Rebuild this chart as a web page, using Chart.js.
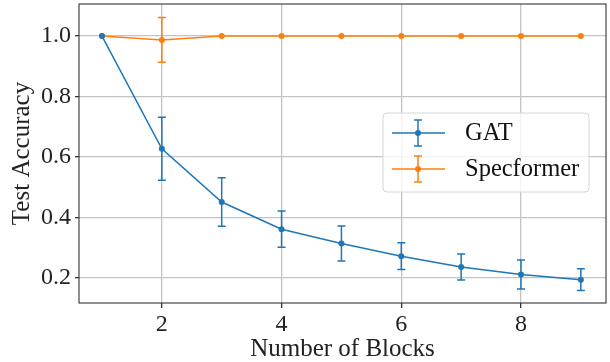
<!DOCTYPE html>
<html><head><meta charset="utf-8">
<script src="https://cdn.jsdelivr.net/npm/chart.js@4"></script>
<style>html,body{margin:0;padding:0;background:#fff}#wrap{width:610px;height:362px}</style>
</head><body><div id="wrap"><canvas id="c" width="610" height="362"></canvas></div>
<script>
const blocks = [1, 2, 3, 4, 5, 6, 7, 8, 9];
const gatMean = [1.0, 0.627, 0.451, 0.361, 0.314, 0.272, 0.236, 0.211, 0.194];
const gatErr  = [0.0, 0.104, 0.080, 0.060, 0.058, 0.044, 0.043, 0.048, 0.036];
const specMean = [1.0, 0.987, 1.0, 1.0, 1.0, 1.0, 1.0, 1.0, 1.0];
const specErr  = [0.0, 0.074, 0.0, 0.0, 0.0, 0.0, 0.0, 0.0, 0.0];
const xTicks = [2, 4, 6, 8];
const yTicks = [0.2, 0.4, 0.6, 0.8, 1.0];
const seriesNames = ['GAT', 'Specformer'];
const seriesColors = ['#1f77b4', '#ff7f0e'];

const FONT = "'Liberation Serif', 'DejaVu Serif', serif";
const errs = [gatErr, specErr];

const errorBarPlugin = {
  id: 'errbars',
  afterDatasetsDraw(chart) {
    const ctx = chart.ctx, xs = chart.scales.x, ys = chart.scales.y;
    chart.data.datasets.forEach((ds, i) => {
      ctx.save();
      ctx.strokeStyle = ds.borderColor;
      ctx.lineWidth = 1.5;
      ds.data.forEach((p, j) => {
        const e = errs[i][j];
        if (!e) return;
        const px = xs.getPixelForValue(p.x);
        const y1 = ys.getPixelForValue(p.y + e), y2 = ys.getPixelForValue(p.y - e);
        ctx.beginPath();
        ctx.moveTo(px, y1); ctx.lineTo(px, y2);
        ctx.moveTo(px - 4, y1); ctx.lineTo(px + 4, y1);
        ctx.moveTo(px - 4, y2); ctx.lineTo(px + 4, y2);
        ctx.stroke();
      });
      ctx.restore();
    });
  },
  afterDraw(chart) {
    const ctx = chart.ctx, a = chart.chartArea;
    ctx.save();
    ctx.strokeStyle = '#333';
    ctx.lineWidth = 1.1;
    ctx.strokeRect(a.left, a.top, a.right - a.left, a.bottom - a.top);
    const lx = 383, ly = 113, lw = 206, lh = 79, r = 4;
    ctx.beginPath();
    ctx.moveTo(lx + r, ly); ctx.lineTo(lx + lw - r, ly); ctx.quadraticCurveTo(lx + lw, ly, lx + lw, ly + r);
    ctx.lineTo(lx + lw, ly + lh - r); ctx.quadraticCurveTo(lx + lw, ly + lh, lx + lw - r, ly + lh);
    ctx.lineTo(lx + r, ly + lh); ctx.quadraticCurveTo(lx, ly + lh, lx, ly + lh - r);
    ctx.lineTo(lx, ly + r); ctx.quadraticCurveTo(lx, ly, lx + r, ly);
    ctx.closePath();
    ctx.fillStyle = 'rgba(255,255,255,0.8)';
    ctx.fill();
    ctx.strokeStyle = '#d6d6d6';
    ctx.lineWidth = 1;
    ctx.stroke();
    const rows = [133, 169];
    seriesNames.forEach((name, i) => {
      const y = rows[i], c = seriesColors[i];
      ctx.strokeStyle = c; ctx.fillStyle = c; ctx.lineWidth = 1.5;
      ctx.beginPath();
      ctx.moveTo(392, y); ctx.lineTo(445, y);
      ctx.moveTo(418, y - 13); ctx.lineTo(418, y + 13);
      ctx.moveTo(414, y - 13); ctx.lineTo(422, y - 13);
      ctx.moveTo(414, y + 13); ctx.lineTo(422, y + 13);
      ctx.stroke();
      ctx.beginPath(); ctx.arc(418, y, 3, 0, Math.PI * 2); ctx.fill();
      ctx.fillStyle = '#111';
      ctx.font = '24.5px ' + FONT;
      ctx.textBaseline = 'middle';
      ctx.fillText(name, 465, y + 1);
    });
    ctx.restore();
  }
};

const mk = (ys) => blocks.map((b, i) => ({ x: b, y: ys[i] }));

new Chart(document.getElementById('c'), {
  type: 'line',
  data: {
    datasets: [
      { label: seriesNames[0], data: mk(gatMean), borderColor: seriesColors[0], backgroundColor: seriesColors[0],
        borderWidth: 1.5, pointRadius: 3, pointBorderWidth: 0, pointHoverRadius: 3, tension: 0, fill: false },
      { label: seriesNames[1], data: mk(specMean), borderColor: seriesColors[1], backgroundColor: seriesColors[1],
        borderWidth: 1.5, pointRadius: 3, pointBorderWidth: 0, pointHoverRadius: 3, tension: 0, fill: false }
    ]
  },
  options: {
    responsive: false,
    animation: false,
    devicePixelRatio: 1,
    layout: { padding: { top: 4, right: 4, left: 0, bottom: 0 } },
    plugins: { legend: { display: false }, tooltip: { enabled: false } },
    scales: {
      x: {
        type: 'linear', min: 0.616, max: 9.42,
        afterBuildTicks: (s) => { s.ticks = xTicks.map(v => ({ value: v })); },
        afterFit: (s) => { s.height = 59; s.paddingLeft = 0; s.paddingRight = 0; },
        grid: { color: '#c4c4c4', lineWidth: 1.3, tickColor: '#333', tickLength: 5, drawTicks: true },
        border: { display: false },
        ticks: { color: '#222', font: { family: FONT, size: 24 }, padding: 2, maxRotation: 0,
                 callback: (v) => String(v) },
        title: { display: true, text: 'Number of Blocks', color: '#222', font: { family: FONT, size: 25 }, padding: { top: 0, bottom: -2 } }
      },
      y: {
        type: 'linear', min: 0.117, max: 1.106,
        afterBuildTicks: (s) => { s.ticks = yTicks.map(v => ({ value: v })); },
        afterFit: (s) => { s.width = 79; s.paddingTop = 0; s.paddingBottom = 0; },
        grid: { color: '#c4c4c4', lineWidth: 1.3, tickColor: '#333', tickLength: 4, drawTicks: true },
        border: { display: false },
        ticks: { color: '#222', font: { family: FONT, size: 24 }, padding: 4,
                 callback: (v) => Number(v).toFixed(1) },
        title: { display: true, text: 'Test Accuracy', color: '#222', font: { family: FONT, size: 25 }, padding: { top: 7, bottom: 0 } }
      }
    }
  },
  plugins: [errorBarPlugin]
});
</script>
</body></html>
